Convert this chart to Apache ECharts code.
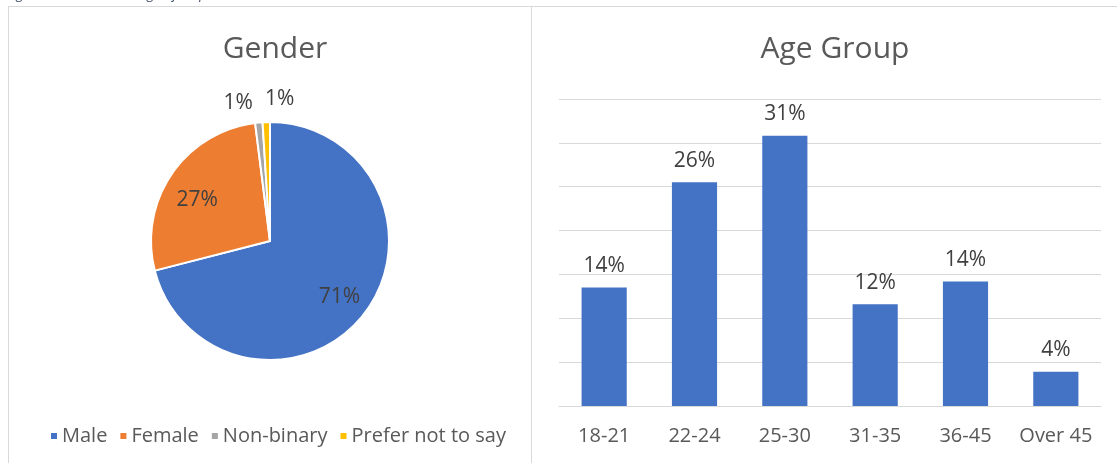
<!DOCTYPE html>
<html>
<head>
<meta charset="utf-8">
<script src="https://cdn.jsdelivr.net/npm/echarts@6/dist/echarts.min.js"></script>
<style>
html,body{margin:0;padding:0;background:#fff;}
#c{width:1117px;height:463px;}
</style>
</head>
<body>
<div id="c"></div>
<script>
const genderLabels = ['Male', 'Female', 'Non-binary', 'Prefer not to say'];
const genderValues = [71, 27, 1, 1];
const genderColors = ['#4472C4', '#ED7D31', '#A5A5A5', '#FFC000'];

const ageGroups = ['18-21', '22-24', '25-30', '31-35', '36-45', 'Over 45'];
const ageValues = [13.5, 25.5, 30.8, 11.6, 14.2, 3.9];

const FONT = '"Open Sans", Lato, sans-serif';
const TXT = '#595959';

const chart = echarts.init(document.getElementById('c'), null, {renderer: 'canvas'});

const pieData = genderLabels.map((n, i) => ({
  name: n, value: genderValues[i],
  itemStyle: {color: genderColors[i]},
  label: {show: i >= 2}
}));

const option = {
  animation: false,
  textStyle: {fontFamily: FONT},
  title: [
    {text: 'Gender', left: 270, top: 29, textAlign: 'center',
     textStyle: {fontFamily: FONT, fontSize: 30, fontWeight: 'normal', color: TXT}},
    {text: 'Age Group', left: 830, top: 29, textAlign: 'center',
     textStyle: {fontFamily: FONT, fontSize: 30, fontWeight: 'normal', color: TXT}}
  ],
  legend: {
    data: genderLabels,
    left: 44, top: 421,
    icon: 'rect', itemWidth: 8, itemHeight: 8, itemGap: 11,
    textStyle: {fontFamily: FONT, fontSize: 20, color: TXT, padding: [0, 0, 0, -1]},
    selectedMode: false
  },
  grid: {left: 559, right: 16, top: 99, bottom: 57, containLabel: false},
  xAxis: {
    type: 'category', data: ageGroups,
    axisLine: {lineStyle: {color: '#D9D9D9', width: 1}},
    axisTick: {show: false},
    axisLabel: {fontFamily: FONT, fontSize: 20, color: TXT, margin: 20, interval: 0}
  },
  yAxis: {
    type: 'value', min: 0, max: 35, interval: 5,
    axisLabel: {show: false}, axisLine: {show: false}, axisTick: {show: false},
    splitLine: {lineStyle: {color: '#D9D9D9', width: 1}}
  },
  series: [
    {
      type: 'pie', name: 'Gender',
      center: [270, 241], radius: 119,
      startAngle: 90, clockwise: true,
      avoidLabelOverlap: false,
      itemStyle: {borderColor: '#fff', borderWidth: 2},
      label: {
        show: true, position: 'outside',
        formatter: p => p.value + '%',
        fontFamily: FONT, fontSize: 21, color: '#404040'
      },
      labelLine: {show: false, length: 0, length2: 0},
      labelLayout: function (p) {
        if (p.dataIndex === 2) return {dx: -1, dy: -20};
        if (p.dataIndex === 3) return {dx: 33, dy: -23};
        return {};
      },
      data: pieData
    },
    {
      type: 'pie', name: 'GenderLabels', silent: true,
      center: [270, 241], radius: 170,
      startAngle: 90, clockwise: true,
      legendHoverLink: false,
      itemStyle: {color: 'rgba(0,0,0,0)', borderWidth: 0},
      label: {
        show: true, position: 'inside',
        formatter: p => p.value + '%',
        fontFamily: FONT, fontSize: 21, color: '#404040'
      },
      labelLine: {show: false},
      labelLayout: function (p) {
        if (p.dataIndex === 1) return {dy: 8};
        if (p.dataIndex === 0) return {dy: 2};
        return {};
      },
      data: genderLabels.map((n, i) => ({
        name: n, value: genderValues[i],
        label: {show: i < 2},
        itemStyle: {color: 'rgba(0,0,0,0)'}
      }))
    },
    {
      type: 'bar', name: 'Age Group',
      data: ageValues, barWidth: '50%',
      itemStyle: {color: '#4472C4'},
      label: {
        show: true, position: 'top', distance: 11,
        formatter: p => Math.round(p.value) + '%',
        fontFamily: FONT, fontSize: 21, color: '#404040'
      }
    }
  ],
  graphic: [
    {type: 'line', shape: {x1: 8, y1: 6.5, x2: 1117, y2: 6.5}, style: {stroke: '#D9D9D9', lineWidth: 1}},
    {type: 'line', shape: {x1: 8.5, y1: 6, x2: 8.5, y2: 463}, style: {stroke: '#D9D9D9', lineWidth: 1}},
    {type: 'line', shape: {x1: 531.5, y1: 6, x2: 531.5, y2: 463}, style: {stroke: '#D9D9D9', lineWidth: 1}},
    {type: 'text', left: 6, top: -13,
     style: {text: 'Figure 1: Gender and age of respondents', fill: '#44546A',
             font: 'italic 14px ' + FONT}}
  ]
};
chart.setOption(option);
</script>
</body>
</html>
